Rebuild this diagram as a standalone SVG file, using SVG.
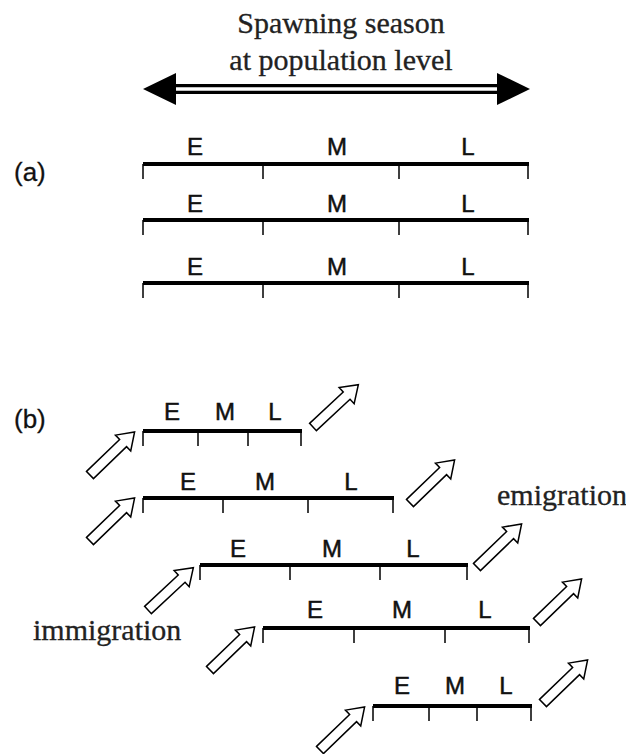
<svg xmlns="http://www.w3.org/2000/svg" width="626" height="754" viewBox="0 0 626 754">
<style>
.bar{stroke:#000;stroke-width:4;fill:none;stroke-linecap:butt}
.tk{stroke:#000;stroke-width:1.5;fill:none}
.lt{font-family:"Liberation Sans",Arial,sans-serif;font-size:24px;fill:#111;stroke:#111;stroke-width:0.5;text-anchor:middle}
.lab{font-family:"Liberation Sans",Arial,sans-serif;font-size:26px;fill:#111;stroke:#111;stroke-width:0.3}
.ser{font-family:"Liberation Serif","Times New Roman",serif;font-size:30px;fill:#222;stroke:#222;stroke-width:0.3}
.ha{fill:#fff;stroke:#000;stroke-width:1.5;stroke-linejoin:miter}
</style>
<defs>
<path id="harrow" class="ha" d="M0,-5 L46,-5 L46,-11 L62,0 L46,11 L46,5 L0,5 Z"/>
</defs>

<g id="season">
<text class="ser" x="341" y="33" text-anchor="middle">Spawning season</text>
<text class="ser" x="341" y="70" text-anchor="middle">at population level</text>
<line x1="170" y1="89" x2="503" y2="89" stroke="#000" stroke-width="10"/>
<line x1="170" y1="89" x2="503" y2="89" stroke="#fff" stroke-width="3.5"/>
<path d="M143,89 L176,73 L176,105 Z" fill="#000"/>
<path d="M530,89 L497,73 L497,105 Z" fill="#000"/>
</g>

<g id="panel-a">
<text class="lab" x="14" y="181">(a)</text>
<g id="a1">
<line class="bar" x1="143" y1="164" x2="529" y2="164"/>
<path class="tk" d="M143,164v15M263,164v15M399,164v15M528,164v15"/>
<text class="lt" x="195" y="155">E</text><text class="lt" x="337" y="155">M</text><text class="lt" x="468" y="155">L</text>
</g>
<g id="a2">
<line class="bar" x1="143" y1="220" x2="529" y2="220"/>
<path class="tk" d="M143,220v15M263,220v15M399,220v15M528,220v15"/>
<text class="lt" x="195" y="212">E</text><text class="lt" x="337" y="212">M</text><text class="lt" x="468" y="212">L</text>
</g>
<g id="a3">
<line class="bar" x1="143" y1="283" x2="529" y2="283"/>
<path class="tk" d="M143,283v15M263,283v15M399,283v15M528,283v15"/>
<text class="lt" x="195" y="275">E</text><text class="lt" x="337" y="275">M</text><text class="lt" x="468" y="275">L</text>
</g>
</g>

<g id="panel-b">
<text class="lab" x="14" y="428">(b)</text>
<g id="b1">
<line class="bar" x1="143" y1="431" x2="302" y2="431"/>
<path class="tk" d="M143,431v15M198,431v15M248,431v15M301,431v15"/>
<text class="lt" x="172" y="420">E</text><text class="lt" x="225" y="420">M</text><text class="lt" x="275" y="420">L</text>
</g>
<g id="b2">
<line class="bar" x1="143" y1="498" x2="394" y2="498"/>
<path class="tk" d="M143,498v15M223,498v15M308,498v15M393,498v15"/>
<text class="lt" x="188" y="490">E</text><text class="lt" x="265" y="490">M</text><text class="lt" x="351" y="490">L</text>
</g>
<g id="b3">
<line class="bar" x1="200" y1="565" x2="468" y2="565"/>
<path class="tk" d="M200,565v15M290,565v15M380,565v15M467,565v15"/>
<text class="lt" x="238" y="557">E</text><text class="lt" x="332" y="557">M</text><text class="lt" x="413" y="557">L</text>
</g>
<g id="b4">
<line class="bar" x1="263" y1="628" x2="530" y2="628"/>
<path class="tk" d="M263,628v15M354,628v15M445,628v15M529,628v15"/>
<text class="lt" x="315" y="618">E</text><text class="lt" x="402" y="618">M</text><text class="lt" x="485" y="618">L</text>
</g>
<g id="b5">
<line class="bar" x1="373" y1="706" x2="532" y2="706"/>
<path class="tk" d="M373,706v15M429,706v15M477,706v15M531,706v15"/>
<text class="lt" x="402" y="694">E</text><text class="lt" x="455" y="694">M</text><text class="lt" x="506" y="694">L</text>
</g>
<text class="ser" x="33" y="640">immigration</text>
<text class="ser" x="497" y="505">emigration</text>
</g>

<g id="connectors">
<use href="#harrow" transform="translate(90,475) rotate(-44)"/>
<use href="#harrow" transform="translate(90,541) rotate(-44)"/>
<use href="#harrow" transform="translate(148,610) rotate(-43)"/>
<use href="#harrow" transform="translate(210,670) rotate(-44)"/>
<use href="#harrow" transform="translate(320,750) rotate(-44)"/>
<use href="#harrow" transform="translate(313,427) rotate(-43)"/>
<use href="#harrow" transform="translate(410,503) rotate(-44)"/>
<use href="#harrow" transform="translate(477,567) rotate(-44)"/>
<use href="#harrow" transform="translate(537,622) rotate(-44)"/>
<use href="#harrow" transform="translate(543,703) rotate(-44)"/>
</g>
</svg>
